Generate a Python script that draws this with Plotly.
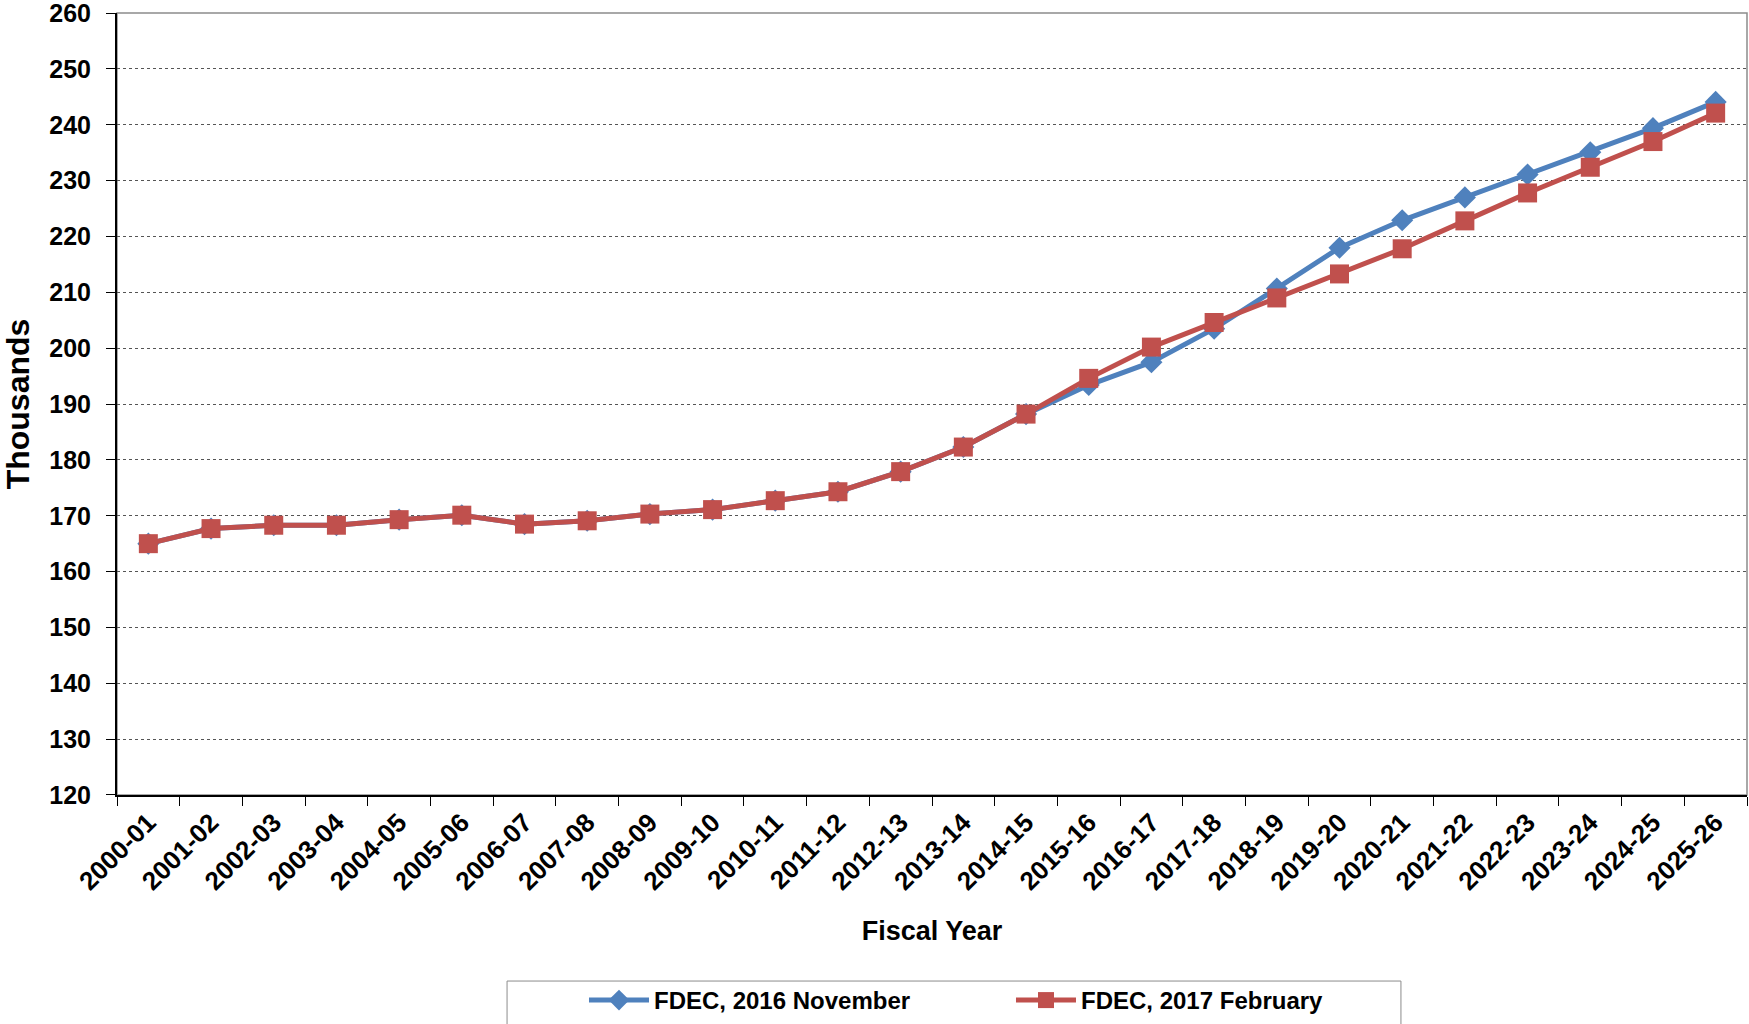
import plotly.graph_objects as go

years = ["2000-01", "2001-02", "2002-03", "2003-04", "2004-05", "2005-06", "2006-07",
         "2007-08", "2008-09", "2009-10", "2010-11", "2011-12", "2012-13", "2013-14",
         "2014-15", "2015-16", "2016-17", "2017-18", "2018-19", "2019-20", "2020-21",
         "2021-22", "2022-23", "2023-24", "2024-25", "2025-26"]

fdec_2016_nov = [165.0, 167.7, 168.3, 168.3, 169.3, 170.1, 168.5, 169.1, 170.3, 171.1,
                 172.7, 174.3, 177.9, 182.3, 188.2, 193.4, 197.5, 203.5, 210.7, 218.0,
                 222.9, 227.0, 231.1, 235.1, 239.4, 244.1]

fdec_2017_feb = [165.0, 167.7, 168.3, 168.3, 169.3, 170.1, 168.5, 169.1, 170.3, 171.1,
                 172.7, 174.3, 177.9, 182.3, 188.2, 194.6, 200.2, 204.6, 209.0, 213.3,
                 217.8, 222.8, 227.8, 232.4, 237.0, 242.1]

y_ticks = [120, 130, 140, 150, 160, 170, 180, 190, 200, 210, 220, 230, 240, 250, 260]

FONT = "Liberation Sans, Arial, sans-serif"
BLUE = "#4F81BD"
RED = "#C0504D"

fig = go.Figure()
fig.add_trace(go.Scatter(
    x=years, y=fdec_2016_nov, mode="lines+markers", name="FDEC, 2016 November",
    line=dict(color=BLUE, width=5),
    marker=dict(symbol="diamond", size=17, color=BLUE),
))
fig.add_trace(go.Scatter(
    x=years, y=fdec_2017_feb, mode="lines+markers", name="FDEC, 2017 February",
    line=dict(color=RED, width=5),
    marker=dict(symbol="square", size=19, color=RED),
))

fig.update_layout(
    width=1749, height=1024,
    margin=dict(l=117, r=2, t=13, b=229, autoexpand=False),
    paper_bgcolor="white", plot_bgcolor="white",
    font=dict(family=FONT, size=24, color="black", weight="bold"),
    showlegend=True,
    legend=dict(
        orientation="h", x=0.2865, xanchor="left", y=-0.234, yanchor="top",
        borderwidth=0, bgcolor="rgba(0,0,0,0)",
        font=dict(family=FONT, size=24, color="black", weight="bold"),
        itemwidth=60, entrywidth=352, entrywidthmode="pixels",
    ),
    shapes=[
        dict(type="rect", xref="paper", yref="paper", x0=0, x1=1, y0=0, y1=1,
             line=dict(color="#8c8c8c", width=1.5), layer="below"),
        dict(type="rect", xref="paper", yref="paper", x0=0.2393, x1=0.7877,
             y0=-0.30, y1=-0.2379, line=dict(color="#8c8c8c", width=1)),
    ],
)

fig.update_xaxes(
    type="category", range=[-0.5, len(years) - 0.5],
    tickangle=-45, tickson="boundaries", ticks="outside", ticklen=9, tickcolor="black",
    showline=True, linecolor="black", linewidth=2,
    showgrid=False, zeroline=False,
    tickfont=dict(family=FONT, size=26, color="black", weight="bold"),
    title=dict(text="Fiscal Year", standoff=26,
               font=dict(family=FONT, size=27, color="black", weight="bold")),
)
fig.update_yaxes(
    range=[119.999, 260.02], tickvals=y_ticks, ticks="outside", ticklen=9, tickcolor="black",
    showline=True, linecolor="black", linewidth=2,
    showgrid=True, gridcolor="#555555", gridwidth=1, griddash="dot",
    zeroline=False, ticklabelstandoff=10, ticklabeloverflow="allow",
    tickfont=dict(family=FONT, size=25, color="black", weight="bold"),
    title=dict(text="Thousands", standoff=17,
               font=dict(family=FONT, size=32, color="black", weight="bold")),
)

fig.write_html("out.html", config={"displayModeBar": False},
               post_script="document.body.style.margin='0';")
